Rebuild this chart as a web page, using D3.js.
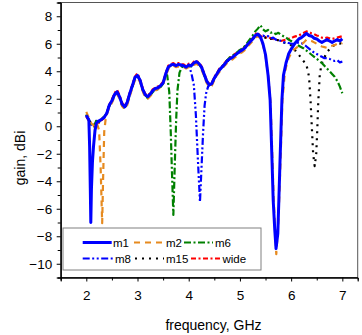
<!DOCTYPE html>
<html>
<head>
<meta charset="utf-8">
<script src="https://cdn.jsdelivr.net/npm/d3@7/dist/d3.min.js"></script>
<style>
html,body{margin:0;padding:0;background:#fff;}
svg text{font-family:"Liberation Sans",Arial,sans-serif;fill:#000;}
</style>
</head>
<body>
<svg id="chart" width="362" height="335"></svg>
<script>
// ---------- DATA ----------
const seriesNames = ["m1","m2","m6","m8","m15","wide"];
const xTicks = [2,3,4,5,6,7];
const yTicks = [-10,-8,-6,-4,-2,0,2,4,6,8];
// frequency grid, GHz (2.00 .. 7.00 every 0.05)
const freq = d3.range(0,101).map(i => +(2 + i*0.05).toFixed(2));

const gainM1 = [0.80,0.45,-4.5,-1.0,0.25,0.40,0.50,0.65,0.95,1.55,
1.85,2.30,2.50,2.15,1.60,1.40,1.75,2.40,2.95,3.55,
3.70,3.35,2.70,2.30,2.15,2.35,2.60,2.75,2.80,2.95,
3.15,3.80,4.30,4.45,4.50,4.40,4.50,4.45,4.40,4.30,
4.45,4.40,4.60,4.70,4.55,4.30,3.80,3.30,3.00,3.10,
3.50,3.80,4.10,4.30,4.50,4.75,4.90,5.00,5.15,5.30,
5.45,5.55,5.70,5.95,6.15,6.35,6.60,6.70,6.50,6.00,
5.20,3.70,1.00,-4.0,-8.5,-6.0,-1.5,3.70,4.60,5.25,
5.60,5.90,6.15,6.35,6.45,6.60,6.75,6.60,6.55,6.40,
6.35,6.20,6.10,6.20,6.30,6.20,6.10,6.20,6.30,6.20,6.35];
const dipsM1 = [
 [[2.05,0.45],[2.065,-1.5],[2.078,-4.5],[2.088,-7.0],[2.10,-4.6],[2.12,-2.6],[2.14,-1.5],[2.17,-0.3],[2.20,0.25]],
 [[5.50,5.2],[5.55,3.7],[5.59,1.9],[5.63,-2.9],[5.65,-5.4],[5.68,-7.5],[5.705,-8.9],[5.74,-7.8],[5.76,-5.4],[5.78,-2.9],[5.80,-0.5],[5.82,1.9],[5.85,3.7]]
];

const gainM2 = [1.05,0.60,0.20,0.05,0.30,-0.30,-5.0,-0.40,0.85,1.40,
1.70,2.15,2.35,2.00,1.45,1.25,1.55,2.20,2.80,3.35,
3.55,3.20,2.55,2.10,2.00,2.20,2.45,2.60,2.70,2.85,
3.05,3.65,4.15,4.35,4.40,4.30,4.35,4.30,4.30,4.20,
4.30,4.30,4.45,4.55,4.40,4.15,3.65,3.15,2.85,2.95,
3.35,3.70,3.95,4.20,4.40,4.60,4.75,4.85,5.00,5.15,
5.30,5.40,5.55,5.80,6.00,6.20,6.45,6.55,6.40,5.90,
5.10,3.40,1.60,-4.0,-9.0,-7.0,-2.0,3.40,4.30,4.95,
5.30,5.55,5.70,5.85,5.95,6.10,6.30,6.25,6.20,6.10,
6.00,5.90,5.80,5.75,5.70,5.80,5.85,5.90,6.00,5.95,6.05];
const dipsM2 = [
 [[2.25,-0.3],[2.28,-3.0],[2.31,-7.05],[2.33,-3.5],[2.35,-0.4],[2.38,0.6]],
 [[5.50,5.1],[5.56,3.4],[5.60,1.6],[5.66,-5.4],[5.71,-9.3],[5.75,-7.0],[5.78,-4.0],[5.81,-0.5],[5.83,1.9],[5.87,3.6]]
];

const gainM6 = [0.85,0.45,0.10,0.00,0.45,0.30,0.50,0.70,0.95,1.50,
1.80,2.25,2.45,2.05,1.50,1.30,1.65,2.35,2.90,3.50,
3.65,3.30,2.65,2.20,2.05,2.25,2.50,2.65,2.70,2.85,
3.10,3.75,3.50,0.00,-6.0,1.00,3.50,4.35,4.35,4.25,
4.40,4.35,4.55,4.65,4.50,4.25,3.75,3.25,2.95,3.05,
3.45,3.80,4.10,4.35,4.55,4.80,5.00,5.10,5.25,5.40,
5.55,5.65,5.85,6.10,6.35,6.60,6.90,7.10,7.35,7.05,
6.90,7.00,6.80,6.85,6.70,6.80,6.65,6.55,6.45,6.30,
6.20,6.10,5.95,5.85,5.75,5.65,5.50,5.35,5.20,5.05,
4.90,4.75,4.60,4.40,4.20,4.00,3.80,3.60,3.30,2.90,2.40];
const dipsM6 = [
 [[3.55,3.75],[3.58,3.7],[3.62,2.5],[3.65,-0.5],[3.67,-3.0],[3.70,-6.45],[3.73,-2.5],[3.755,0.5],[3.78,2.6],[3.82,3.9],[3.87,4.3]]
];

const gainM8 = [0.80,0.45,0.10,0.00,0.40,0.35,0.50,0.65,0.95,1.55,
1.85,2.30,2.50,2.15,1.60,1.40,1.75,2.40,2.95,3.55,
3.70,3.35,2.70,2.30,2.15,2.35,2.60,2.75,2.80,2.95,
3.15,3.80,4.30,4.45,4.50,4.40,4.50,4.45,4.40,4.30,
4.40,3.90,3.00,0.00,-5.0,-2.5,1.00,2.50,3.00,3.10,
3.50,3.80,4.10,4.30,4.50,4.75,4.90,5.00,5.15,5.30,
5.45,5.55,5.70,5.95,6.15,6.35,6.60,6.70,6.50,6.60,
6.50,6.55,6.40,6.45,6.30,6.30,6.20,6.10,6.10,6.05,
6.00,6.00,6.05,6.10,6.05,5.95,5.80,5.65,5.50,5.35,
5.25,5.15,5.05,4.95,4.95,4.90,4.80,4.75,4.80,4.65,4.70];
const dipsM8 = [
 [[4.00,4.40],[4.05,3.9],[4.10,3.0],[4.14,0.8],[4.18,-2.5],[4.22,-5.5],[4.25,-3.0],[4.28,-0.5],[4.31,1.5],[4.34,2.4],[4.38,2.9],[4.40,3.0]]
];

const gainM15 = [0.85,0.50,0.15,0.05,0.45,0.30,0.55,0.70,0.95,1.50,
1.85,2.25,2.50,2.10,1.55,1.35,1.70,2.35,2.95,3.50,
3.70,3.30,2.70,2.25,2.15,2.30,2.60,2.70,2.80,2.90,
3.15,3.75,4.30,4.40,4.50,4.35,4.50,4.40,4.40,4.25,
4.45,4.35,4.60,4.65,4.55,4.25,3.80,3.25,3.00,3.05,
3.50,3.75,4.10,4.25,4.50,4.70,4.90,4.95,5.15,5.25,
5.45,5.50,5.70,5.90,6.15,6.30,6.60,6.65,6.50,6.50,
6.45,6.50,6.35,6.40,6.30,6.25,6.20,6.10,6.05,6.00,
5.90,5.70,5.40,5.20,4.95,4.70,4.45,3.60,0.50,-2.8,
-1.5,3.50,4.60,5.00,5.40,5.60,5.80,5.90,6.00,6.00,6.10];
const dipsM15 = [
 [[6.35,3.6],[6.38,1.8],[6.41,-0.5],[6.43,-2.0],[6.46,-2.9],[6.49,-2.0],[6.51,-0.3],[6.53,1.8],[6.56,3.8],[6.60,4.6]]
];

const gainWide = [0.70,0.40,0.05,0.00,0.35,0.25,0.45,0.60,0.90,1.60,
1.95,2.40,2.65,2.25,1.70,1.45,1.85,2.45,3.05,3.60,
3.85,3.40,2.80,2.35,2.25,2.40,2.70,2.80,2.90,3.00,
3.25,3.85,4.40,4.50,4.60,4.45,4.60,4.50,4.50,4.35,
4.55,4.45,4.70,4.75,4.65,4.35,3.90,3.35,3.10,3.15,
3.60,3.85,4.20,4.35,4.60,4.80,5.00,5.05,5.25,5.35,
5.55,5.60,5.80,6.00,6.25,6.40,6.70,6.80,6.55,6.50,
6.45,6.50,6.40,6.35,6.30,6.25,6.20,6.25,6.30,6.35,
6.40,6.50,6.55,6.60,6.70,6.80,6.90,6.85,6.75,6.70,
6.60,6.55,6.45,6.40,6.45,6.40,6.35,6.40,6.45,6.50,6.55];
const dipsWide = [];

// ---------- LAYOUT ----------
const svg = d3.select("#chart");
const x = d3.scaleLinear().domain([1.5, 7.3]).range([60.7, 357.7]);
const y = d3.scaleLinear().domain([-11, 9]).range([277.5, 2.5]);

const styles = {
  m1:  {color:"#0000ff", width:3,   dash:null},
  m2:  {color:"#e68a1f", width:2.2, dash:"6,5"},
  m6:  {color:"#008000", width:2.2, dash:"7,2.5,2,2.5"},
  m8:  {color:"#0000ff", width:2.2, dash:"7,2.5,2,2.5,2,2.5"},
  m15: {color:"#000000", width:2.2, dash:"2,5"},
  wide:{color:"#ff0000", width:2.2, dash:"5,2.5,2,2.5"}
};
const gains = {m1:gainM1, m2:gainM2, m6:gainM6, m8:gainM8, m15:gainM15, wide:gainWide};
const dips  = {m1:dipsM1, m2:dipsM2, m6:dipsM6, m8:dipsM8, m15:dipsM15, wide:dipsWide};

function build(name){
  let pts = freq.map((f,i)=>[f, gains[name][i]]);
  dips[name].forEach(d=>{
    const lo=d[0][0], hi=d[d.length-1][0];
    pts = pts.filter(p=>p[0]<lo || p[0]>hi).concat(d);
  });
  pts.sort((a,b)=>a[0]-b[0]);
  return pts;
}

svg.append("clipPath").attr("id","clip").append("rect")
  .attr("x",x(1.5)).attr("y",y(9)).attr("width",x(7.3)-x(1.5)).attr("height",y(-11)-y(9));

const line = d3.line().x(d=>x(d[0])).y(d=>y(d[1]));
const gPlot = svg.append("g").attr("clip-path","url(#clip)");
["wide","m15","m8","m6","m2","m1"].forEach(n=>{
  const s = styles[n];
  gPlot.append("path").datum(build(n))
    .attr("d",line).attr("fill","none")
    .attr("stroke",s.color).attr("stroke-width",s.width)
    .attr("stroke-linejoin","round")
    .attr("stroke-dasharray",s.dash);
});

// frame
svg.append("rect").attr("x",x(1.5)).attr("y",y(9))
  .attr("width",x(7.3)-x(1.5)).attr("height",y(-11)-y(9))
  .attr("fill","none").attr("stroke","#555").attr("stroke-width",1);

// axes
const xMinor = d3.range(1.5, 7.31, 0.5).filter(v=>!xTicks.includes(v));
const yMinor = d3.range(-11, 9.01, 1).filter(v=>!yTicks.includes(v));

const gx = svg.append("g").attr("transform",`translate(0,${y(-11)})`);
gx.call(d3.axisBottom(x).tickValues(xTicks).tickSize(4).tickFormat(d3.format("d")));
gx.append("g").call(d3.axisBottom(x).tickValues(xMinor).tickSize(3).tickFormat(""));
gx.selectAll("text").attr("y",22.5).attr("dy",null).style("font-size","13.5px")
  .style("font-family","'Liberation Sans',Arial,sans-serif").attr("fill","#000");

const gy = svg.append("g").attr("transform",`translate(${x(1.5)},0)`);
gy.call(d3.axisLeft(y).tickValues(yTicks).tickSize(4).tickPadding(4.5).tickFormat(d3.format("d")));
gy.append("g").call(d3.axisLeft(y).tickValues(yMinor).tickSize(3).tickFormat(""));
gy.selectAll("text").style("font-size","13.5px")
  .style("font-family","'Liberation Sans',Arial,sans-serif").attr("fill","#000");

svg.selectAll(".domain").attr("stroke","#000");
svg.selectAll(".tick line").attr("stroke","#000");

// axis titles
svg.append("text").attr("x",213.5).attr("y",330).attr("text-anchor","middle")
  .style("font-size","14px").text("frequency, GHz");
svg.append("text").attr("transform","translate(25,158) rotate(-90)")
  .attr("text-anchor","middle").style("font-size","14px").text("gain, dBi");

// legend
const leg = svg.append("g");
leg.append("rect").attr("x",63).attr("y",228).attr("width",198).attr("height",42)
  .attr("fill","#fff").attr("stroke","#808080").attr("stroke-width",1);
const legPos = {
  m1:[82.7,242.5,111.7,113], m2:[134,242.5,164,166], m6:[184,242.5,213,215],
  m8:[82.7,258.5,113,115],  m15:[135,258.5,164,166], wide:[191,258.5,221,222.5]
};
seriesNames.forEach(n=>{
  const p = legPos[n], s = styles[n];
  leg.append("line").attr("x1",p[0]).attr("x2",p[2]).attr("y1",p[1]).attr("y2",p[1])
    .attr("stroke",s.color).attr("stroke-width",s.width).attr("stroke-dasharray",s.dash);
  leg.append("text").attr("x",p[3]).attr("y",p[1]+4).style("font-size","11.5px").text(n);
});
</script>
</body>
</html>
